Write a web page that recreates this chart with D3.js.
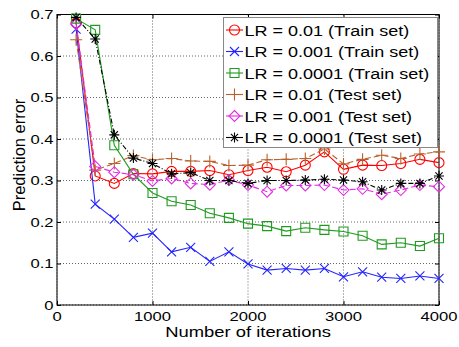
<!DOCTYPE html>
<html>
<head>
<meta charset="utf-8">
<script src="https://cdn.jsdelivr.net/npm/d3@7"></script>
<style>
  body { margin: 0; background: #fff; }
  svg text { font-family: "Liberation Sans", Arial, sans-serif; fill: #000; }
</style>
</head>
<body>
<div id="chart"></div>
<script>
// Prediction error vs. iterations
const iterations = [200, 400, 600, 800, 1000, 1200, 1400, 1600, 1800, 2000,
  2200, 2400, 2600, 2800, 3000, 3200, 3400, 3600, 3800, 4000];

const trainLr01 = [0.680, 0.311, 0.293, 0.317, 0.316, 0.322, 0.322, 0.324, 0.314, 0.324,
  0.332, 0.321, 0.337, 0.369, 0.327, 0.337, 0.336, 0.341, 0.351, 0.343];
const trainLr001 = [0.665, 0.243, 0.207, 0.163, 0.173, 0.128, 0.139, 0.105, 0.128, 0.099,
  0.084, 0.088, 0.084, 0.088, 0.068, 0.080, 0.067, 0.064, 0.070, 0.064];
const trainLr0001 = [0.690, 0.663, 0.385, 0.315, 0.270, 0.250, 0.241, 0.221, 0.210, 0.196,
  0.190, 0.178, 0.186, 0.181, 0.177, 0.167, 0.146, 0.150, 0.142, 0.161];
const testLr01 = [0.639, 0.325, 0.341, 0.360, 0.350, 0.353, 0.347, 0.346, 0.336, 0.337,
  0.350, 0.351, 0.353, 0.376, 0.340, 0.351, 0.361, 0.353, 0.364, 0.369];
const testLr001 = [0.677, 0.334, 0.320, 0.314, 0.299, 0.305, 0.293, 0.290, 0.301, 0.289,
  0.273, 0.288, 0.288, 0.289, 0.277, 0.280, 0.267, 0.277, 0.289, 0.285];
const testLr0001 = [0.693, 0.641, 0.410, 0.354, 0.341, 0.316, 0.319, 0.300, 0.300, 0.293,
  0.300, 0.300, 0.301, 0.303, 0.301, 0.297, 0.277, 0.293, 0.293, 0.311];

const xTicks = [0, 1000, 2000, 3000, 4000];
const yTicks = [0, 0.1, 0.2, 0.3, 0.4, 0.5, 0.6, 0.7];

const series = [
  { name: 'LR = 0.01 (Train set)',   values: trainLr01,   color: '#ff0000', marker: 'circle',   dash: null },
  { name: 'LR = 0.001 (Train set)',  values: trainLr001,  color: '#2424ff', marker: 'x',        dash: null },
  { name: 'LR = 0.0001 (Train set)', values: trainLr0001, color: '#1f9a1f', marker: 'square',   dash: null },
  { name: 'LR = 0.01 (Test set)',    values: testLr01,    color: '#b8612c', marker: 'plus',     dash: '6,3' },
  { name: 'LR = 0.001 (Test set)',   values: testLr001,   color: '#e22ee2', marker: 'diamond',  dash: '6,3' },
  { name: 'LR = 0.0001 (Test set)',  values: testLr0001,  color: '#000000', marker: 'asterisk', dash: '5,2,1,2' }
];

const W = 459, H = 347;
const box = { left: 57, right: 439, top: 14.5, bottom: 305 };

const svg = d3.select('#chart').append('svg')
  .attr('width', W)
  .attr('height', H);

const x = d3.scaleLinear().domain([0, 4000]).range([box.left, box.right]);
const y = d3.scaleLinear().domain([0, 0.7]).range([box.bottom, box.top]);

// text helper: the reference glyphs are stretched horizontally
function label(g, str, px, py, size, sx, anchor, rot) {
  return g.append('text')
    .attr('transform', `translate(${px},${py}) scale(${sx},1)` + (rot ? ` rotate(${rot})` : ''))
    .style('font-size', size + 'px')
    .style('text-anchor', anchor)
    .text(str);
}

// grid (dotted)
const grid = svg.append('g').attr('class', 'grid');
xTicks.forEach(t => {
  grid.append('line')
    .attr('x1', x(t)).attr('x2', x(t))
    .attr('y1', box.top).attr('y2', box.bottom)
    .attr('stroke', '#666').attr('stroke-width', 1).attr('stroke-dasharray', '1,2');
});
yTicks.forEach(t => {
  grid.append('line')
    .attr('x1', box.left).attr('x2', box.right)
    .attr('y1', y(t)).attr('y2', y(t))
    .attr('stroke', '#666').attr('stroke-width', 1).attr('stroke-dasharray', '1,2');
});

// axes: MATLAB style, ticks pointing inward on all four sides
svg.append('g')
  .attr('transform', `translate(0,${box.bottom})`)
  .call(d3.axisTop(x).tickValues(xTicks).tickSize(4).tickFormat(''));
svg.append('g')
  .attr('transform', `translate(0,${box.top})`)
  .call(d3.axisBottom(x).tickValues(xTicks).tickSize(4).tickFormat(''));
svg.append('g')
  .attr('transform', `translate(${box.left},0)`)
  .call(d3.axisRight(y).tickValues(yTicks).tickSize(4).tickFormat(''));
svg.append('g')
  .attr('transform', `translate(${box.right},0)`)
  .call(d3.axisLeft(y).tickValues(yTicks).tickSize(4).tickFormat(''));
svg.selectAll('.domain').attr('stroke', 'none');
svg.selectAll('.tick line').attr('stroke', '#000');

svg.append('rect')
  .attr('x', box.left).attr('y', box.top)
  .attr('width', box.right - box.left).attr('height', box.bottom - box.top)
  .attr('fill', 'none').attr('stroke', '#000').attr('stroke-width', 1);

// tick labels
const labels = svg.append('g');
xTicks.forEach(t => label(labels, String(t), x(t), 321, 12.5, 1.33, 'middle'));
yTicks.forEach(t => label(labels, d3.format('~g')(t), 53.5, y(t) + 4.5, 12.5, 1.33, 'end'));

label(labels, 'Number of iterations', (box.left + box.right) / 2, 337, 14.5, 1.27, 'middle');
label(labels, 'Prediction error', 24.5, 155, 16.5, 0.95, 'middle', -90);

// marker paths
function markerPath(type) {
  const r = 5;
  switch (type) {
    case 'circle':
      return `M${r},0A${r},${r} 0 1,1 ${-r},0A${r},${r} 0 1,1 ${r},0Z`;
    case 'square':
      return `M-4.5,-4.5H4.5V4.5H-4.5Z`;
    case 'diamond':
      return `M0,-5.5L5.5,0L0,5.5L-5.5,0Z`;
    case 'x':
      return `M-4.5,-4.5L4.5,4.5M-4.5,4.5L4.5,-4.5`;
    case 'plus':
      return `M-6,0H6M0,-6V6`;
    case 'asterisk':
      return `M-5,0H5M0,-5V5M-3.6,-3.6L3.6,3.6M-3.6,3.6L3.6,-3.6`;
  }
}

// lines and markers
const line = d3.line()
  .x((d, i) => x(iterations[i]))
  .y(d => y(d));

series.forEach(s => {
  const g = svg.append('g').attr('class', 'series');
  g.append('path')
    .datum(s.values)
    .attr('d', line)
    .attr('fill', 'none')
    .attr('stroke', s.color)
    .attr('stroke-width', 1.1)
    .attr('stroke-dasharray', s.dash);
  g.selectAll('path.mk')
    .data(s.values)
    .enter().append('path')
    .attr('class', 'mk')
    .attr('d', markerPath(s.marker))
    .attr('transform', (d, i) => `translate(${x(iterations[i])},${y(d)})`)
    .attr('fill', 'none')
    .attr('stroke', s.color)
    .attr('stroke-width', 1.1);
});

// legend
const legend = svg.append('g');
legend.append('rect')
  .attr('x', 223.5).attr('y', 17.5)
  .attr('width', 214).attr('height', 130)
  .attr('fill', '#fff')
  .attr('stroke', '#888')
  .attr('stroke-width', 1);

series.forEach((s, i) => {
  const cy = 30 + i * 21.5;
  const row = legend.append('g');
  row.append('line')
    .attr('x1', 226).attr('x2', 243)
    .attr('y1', cy).attr('y2', cy)
    .attr('stroke', s.color).attr('stroke-width', 1.1);
  row.append('path')
    .attr('d', markerPath(s.marker))
    .attr('transform', `translate(234.5,${cy})`)
    .attr('fill', 'none')
    .attr('stroke', s.color)
    .attr('stroke-width', 1.1);
  label(row, s.name, 244.5, cy + 5.5, 15, 1.2, 'start');
});
</script>
</body>
</html>
